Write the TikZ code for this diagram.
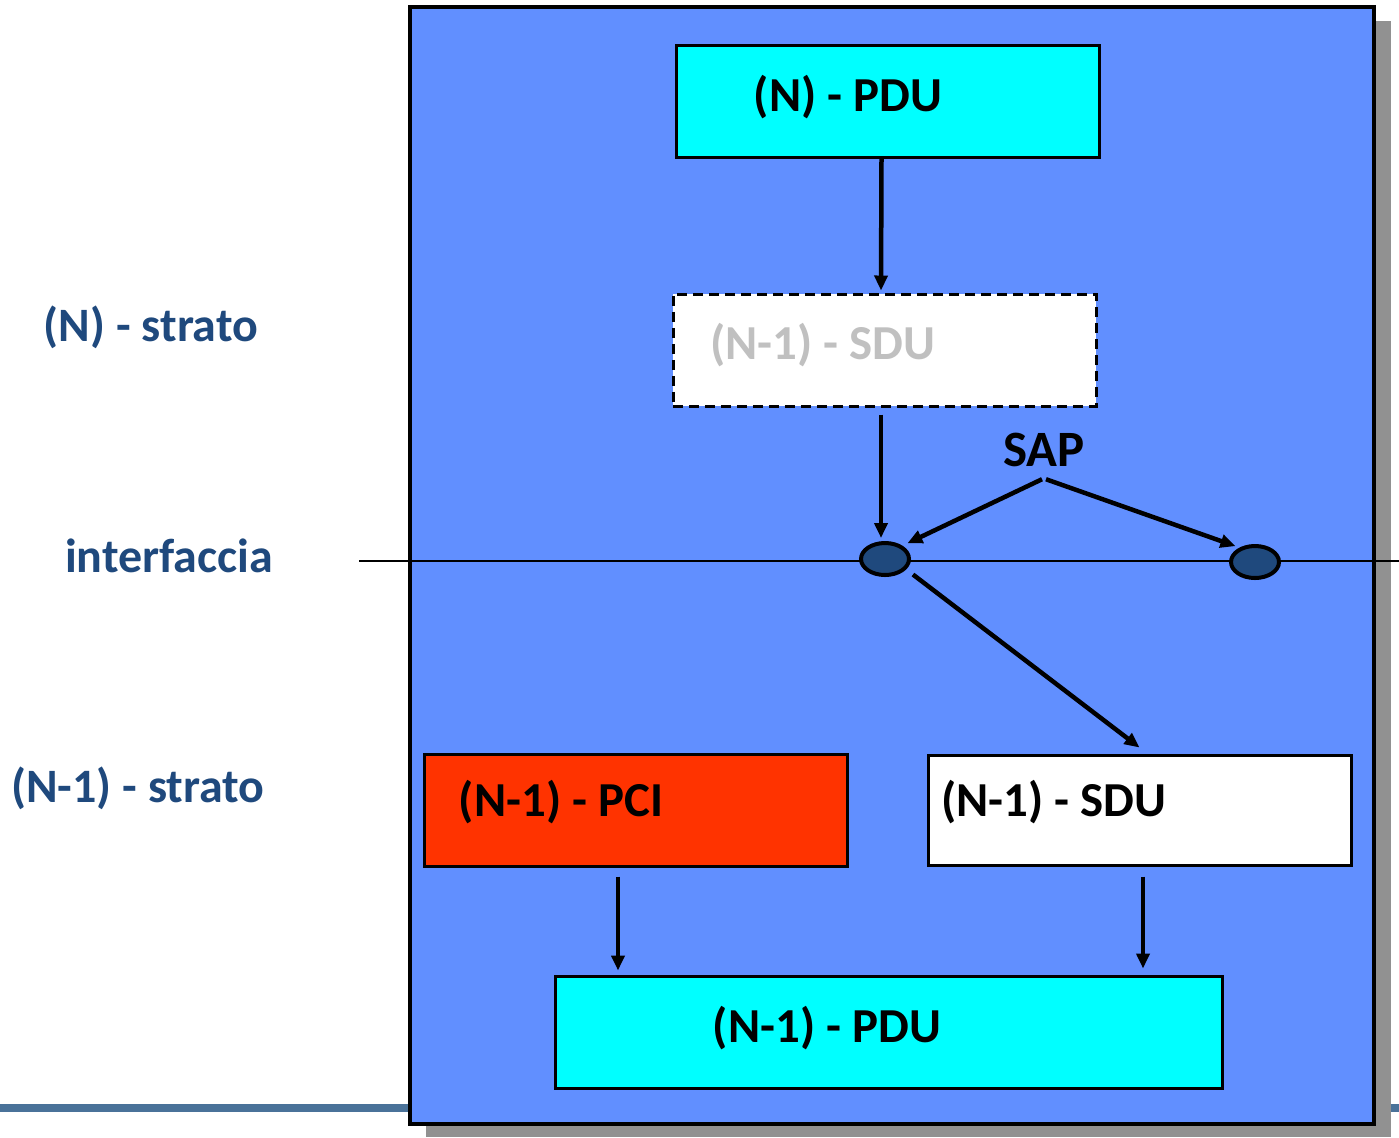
\documentclass[tikz,border=0pt]{standalone}
\usepackage{fontspec}
\setmainfont{Carlito}
\usetikzlibrary{arrows.meta,shapes.geometric,calc}

\newcommand{\pxu}{0.02cm}
\definecolor{layerblue}{RGB}{97,143,255}
\definecolor{pducyan}{RGB}{0,255,255}
\definecolor{pcired}{RGB}{255,51,0}
\definecolor{sapblue}{RGB}{31,73,125}
\definecolor{ghostgray}{RGB}{192,192,192}
\definecolor{shadowgray}{RGB}{145,145,145}
\definecolor{rulebar}{RGB}{74,114,153}

\tikzset{
  databox/.style={draw=black, line width=0.06cm, minimum width=423*\pxu, minimum height=112*\pxu, inner sep=0pt},
  boxtext/.style={inner sep=0pt, font=\fontsize{27.8}{32}\selectfont\bfseries},
  sidetext/.style={inner sep=0pt, text=sapblue, font=\fontsize{27.3}{32}\selectfont\bfseries},
  sapnode/.style={ellipse, draw=black, line width=0.08cm, fill=sapblue, minimum width=48*\pxu, minimum height=32*\pxu, inner sep=0pt},
  arr/.style={-{Triangle[length=0.3cm,width=0.26cm]}, line width=0.09cm},
}

\begin{document}
\begin{tikzpicture}[x=\pxu,y=-\pxu]
\useasboundingbox (0,0) rectangle (1399,1137);

% slide rule and layer block
\fill[rulebar] (0,1104) rectangle (1399,1112);
\fill[shadowgray] (426,21) rectangle (1391,1137);
\draw[line width=0.08cm, fill=layerblue] (410,7) rectangle (1374,1124);
\draw[line width=0.045cm] (359,561) -- (1399,561);

% side labels
\node[sidetext] (lyrN) at (151,327) {(N) - strato};
\node[sidetext] (lyrif) at (169,556) {interfaccia};
\node[sidetext] (lyrN1) at (138,788) {(N-1) - strato};

% boxes
\node[databox, fill=pducyan] (npdu) at (887.5,101) {};
\node[boxtext] at (848,97) {(N) - PDU};
\node[databox, fill=white, dash pattern=on 0.2cm off 0.12cm] (sdud) at (884.5,350) {};
\node[boxtext, text=ghostgray] at (823,345) {(N-1) - SDU};
\node[databox, fill=pcired] (pci) at (635.5,810) {};
\node[boxtext] at (561,802) {(N-1) - PCI};
\node[databox, fill=white, minimum height=110*\pxu] (sdu) at (1139.5,810) {};
\node[boxtext] at (1054,802) {(N-1) - SDU};
\node[databox, fill=pducyan, minimum width=667*\pxu] (pdu) at (888.5,1032) {};
\node[boxtext] at (827,1028) {(N-1) - PDU};

% service access points
\node[sapnode] (sap1) at (885,559) {};
\node[sapnode] (sap2) at (1255,562) {};
\node[boxtext, font=\fontsize{29}{32}\selectfont\bfseries] (sap) at (1044,450) {SAP};

% arrows
\draw[arr] ([xshift=-6*\pxu]npdu.south) -- ([xshift=-3.5*\pxu,yshift=2*\pxu]sdud.north);
\draw[arr] ([xshift=-3.5*\pxu,yshift=-7*\pxu]sdud.south) -- ([xshift=-4*\pxu,yshift=3*\pxu]sap1.north);
\draw[arr] ([xshift=-2*\pxu,yshift=-12*\pxu]sap.south) -- ([xshift=4*\pxu,yshift=3*\pxu]sap1.north east);
\draw[arr] ([xshift=2*\pxu,yshift=-12*\pxu]sap.south) -- ([xshift=-3*\pxu,yshift=2*\pxu]sap2.140);
\draw[arr] ([xshift=8*\pxu,yshift=-4*\pxu]sap1.-30) -- ([yshift=6*\pxu]sdu.north);
\draw[arr] ([xshift=-17.5*\pxu,yshift=-9*\pxu]pci.south) -- ([xshift=-17.5*\pxu,yshift=4*\pxu]pci.south |- pdu.north);
\draw[arr] ([xshift=3.5*\pxu,yshift=-10*\pxu]sdu.south) -- ([xshift=3.5*\pxu,yshift=6*\pxu]sdu.south |- pdu.north);
\end{tikzpicture}
\end{document}
